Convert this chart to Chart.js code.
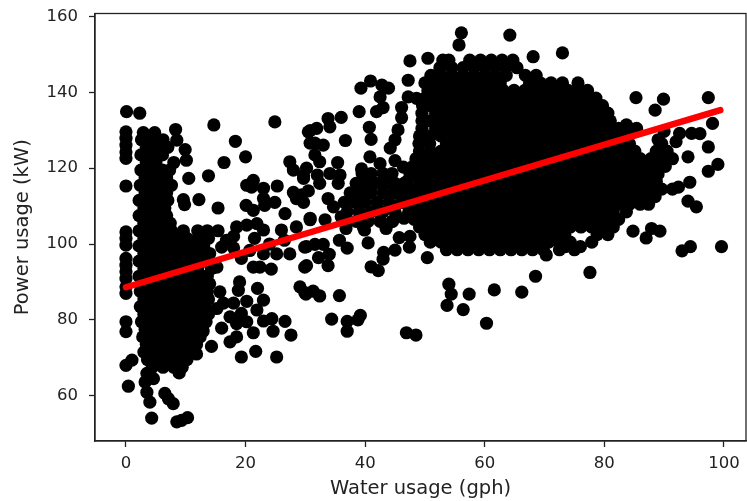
<!DOCTYPE html>
<html>
<head>
<meta charset="utf-8">
<style>
  html, body { margin: 0; padding: 0; background: #fff; }
  canvas { display: block; }
</style>
<script src="https://cdn.jsdelivr.net/npm/chart.js@4/dist/chart.umd.min.js"></script>
</head>
<body>
<canvas id="myChart" width="747" height="501"></canvas>
<script>
var xTicks = [0, 20, 40, 60, 80, 100];
var yTicks = [60, 80, 100, 120, 140, 160];

// fitted line, read at both ends
var fitWater = [0, 99.4];
var fitPower = [88.6, 135.3];

// the solid areas can't be split into single dots, so these are estimates
// that follow their outline: one power value per row, then the water values on that row
var leftPower = [129.4, 127.5, 125.5, 123.5, 121.5, 119.5, 117.5, 115.5, 113.5, 111.5, 109.5, 107.5, 105.5, 103.5, 101.5, 99.5, 97.5, 95.5, 93.5, 91.5, 89.5, 87.5, 85.5, 83.5, 81.5, 79.5, 77.5, 75.5, 73.5, 71.5, 69.5, 67.5];
var leftWater = [
  [2.9, 4.8],
  [2.6, 4.4, 6.2],
  [3.4, 5.2, 7],
  [2.5, 4.3, 6.1],
  [3.4, 5, 8],
  [2.5, 4.3, 6.1, 7.3],
  [3.2, 5, 6.8],
  [2.4, 4.2, 6, 7.6],
  [3.2, 5, 6.8],
  [2.2, 4, 5.8, 7],
  [3, 4.8, 6.5],
  [2.2, 4, 5.8, 6.8],
  [3, 4.8, 6.6, 7.4],
  [2.2, 4, 5.8, 7.6, 9.6, 12, 13.6, 15.4],
  [3, 4.8, 6.6, 8.4, 10.2, 12, 13.8],
  [2.2, 4, 5.8, 7.6, 9.4, 11.2, 13],
  [3, 4.8, 6.6, 8.4, 10.2, 12, 14],
  [2.2, 4, 5.8, 7.6, 9.4, 11.2, 13, 13.6],
  [3, 4.8, 6.6, 8.4, 10.2, 12, 14.3],
  [2.2, 4, 5.8, 7.6, 9.4, 11.2, 13, 13.6],
  [3, 4.8, 6.6, 8.4, 10.2, 12, 14],
  [2.4, 4.2, 6, 7.8, 9.6, 11.4, 13.2, 13.6],
  [3, 4.8, 6.6, 8.4, 10.2, 12, 13.8],
  [2.4, 4.2, 6, 7.8, 9.6, 11.4, 13.2],
  [3, 4.8, 6.6, 8.4, 10.2, 12, 13.8],
  [2.6, 4.4, 6.2, 8, 9.8, 11.6, 13.4],
  [3.2, 5, 6.8, 8.6, 10.4, 12.2, 12.8],
  [2.8, 4.6, 6.4, 8.2, 10, 11.8, 12.4],
  [3.4, 5.2, 7, 8.8, 10.6, 11.8],
  [3, 4.8, 6.6, 8.4, 10.2, 11],
  [3.6, 5.4, 7.2, 9, 10.2],
  [4.4, 6.2, 8, 9.4]
];

var mainPower = [148.5, 146.5, 144.5, 142.5, 140.5, 138.5, 136.5, 134.5, 132.5, 130.5, 128.5, 126.5, 124.5, 122.5, 120.5, 118.5, 116.5, 114.5, 112.5, 110.5, 108.5, 106.5, 104.5, 102.5, 100.5, 98.5];
var mainWater = [
  [57.5, 59.3, 61.1, 62.9, 64.7],
  [52.5, 54.5, 56.4, 58.2, 60, 61.8, 63.6, 65.4],
  [51, 52.8, 54.6, 56.4, 58.2, 60, 61.8, 63.6, 66.8, 68.6],
  [50, 51.8, 53.6, 55.4, 57.2, 59, 60.8, 62.6, 67.5, 69.3, 71.1, 73, 75.6],
  [50.5, 52.3, 54.1, 55.9, 57.7, 59.5, 61.3, 63.1, 64.9, 66.7, 68.5, 70.3, 72.1, 73.9, 75.7, 77.2],
  [50, 51.8, 53.6, 55.4, 57.2, 59, 60.8, 62.6, 64.4, 66.2, 68, 69.8, 71.6, 73.4, 75.2, 77, 78.6],
  [49.6, 50.9, 52.7, 54.5, 56.3, 58.1, 59.9, 61.7, 63.5, 65.3, 67.1, 68.9, 70.7, 72.5, 74.3, 76.1, 77.9, 79.7],
  [49.5, 51.8, 53.6, 55.4, 57.2, 59, 60.8, 62.6, 64.4, 66.2, 68, 69.8, 71.6, 73.4, 75.2, 77, 78.8, 80.6],
  [49.5, 50.9, 52.7, 54.5, 56.3, 58.1, 59.9, 61.7, 63.5, 65.3, 67.1, 68.9, 70.7, 72.5, 74.3, 76.1, 77.9, 79.7, 81],
  [49.5, 51.8, 53.6, 55.4, 57.2, 59, 60.8, 62.6, 64.4, 66.2, 68, 69.8, 71.6, 73.4, 75.2, 77, 78.8, 80.6, 82.4, 84.2, 85.4],
  [49.1, 50.9, 52.7, 54.5, 56.3, 58.1, 59.9, 61.7, 63.5, 65.3, 67.1, 68.9, 70.7, 72.5, 74.3, 76.1, 77.9, 79.7, 81.5, 83.3],
  [49, 50.8, 53.6, 55.4, 57.2, 59, 60.8, 62.6, 64.4, 66.2, 68, 69.8, 71.6, 73.4, 75.2, 77, 78.8, 80.6, 82.4, 84.2, 89.6],
  [49.1, 50.9, 52.7, 54.5, 56.3, 58.1, 59.9, 61.7, 63.5, 65.3, 67.1, 68.9, 70.7, 72.5, 74.3, 76.1, 77.9, 79.7, 81.5, 83.3, 85.1, 88.7, 90.5],
  [48.5, 50, 51.8, 53.6, 55.4, 57.2, 59, 60.8, 62.6, 64.4, 66.2, 68, 69.8, 71.6, 73.4, 75.2, 77, 78.8, 80.6, 82.4, 84.2, 86, 87.8, 89.6, 91.4],
  [48, 49.1, 50.9, 52.7, 54.5, 56.3, 58.1, 59.9, 61.7, 63.5, 65.3, 67.1, 68.9, 70.7, 72.5, 74.3, 76.1, 77.9, 79.7, 81.5, 83.3, 85.1, 86.9, 88.7, 90.2],
  [47.5, 48.2, 50, 51.8, 53.6, 55.4, 57.2, 59, 60.8, 62.6, 64.4, 66.2, 68, 69.8, 71.6, 73.4, 75.2, 77, 78.8, 80.6, 82.4, 84.2, 86, 87.8, 89],
  [47, 49.1, 50.9, 52.7, 54.5, 56.3, 58.1, 59.9, 61.7, 63.5, 65.3, 67.1, 68.9, 70.7, 72.5, 74.3, 76.1, 77.9, 79.7, 81.5, 83.3, 85.1, 86.9, 88.7],
  [46.4, 48.2, 50, 51.8, 53.6, 55.4, 57.2, 59, 60.8, 62.6, 64.4, 66.2, 68, 69.8, 71.6, 73.4, 75.2, 77, 78.8, 80.6, 82.4, 84.2, 86, 87.8, 89.6, 91.4],
  [47.3, 49.1, 50.9, 52.7, 54.5, 56.3, 58.1, 59.9, 61.7, 63.5, 65.3, 67.1, 68.9, 70.7, 72.5, 74.3, 76.1, 77.9, 79.7, 81.5, 83.3, 85.1, 86.9, 88.5],
  [47, 48.2, 50, 51.8, 53.6, 55.4, 57.2, 59, 60.8, 62.6, 64.4, 66.2, 68, 69.8, 71.6, 73.4, 75.2, 77, 78.8, 80.6, 82.4, 84.2, 86, 87.4],
  [47.3, 49.1, 50.9, 52.7, 54.5, 56.3, 58.1, 59.9, 61.7, 63.5, 65.3, 67.1, 68.9, 70.7, 72.5, 74.3, 76.1, 77.9, 79.7, 81.5, 83.7],
  [48.2, 50, 51.8, 53.6, 55.4, 57.2, 59, 60.8, 62.6, 64.4, 66.2, 68, 69.8, 71.6, 73.4, 75.2, 77, 78.8, 80.6, 82.4],
  [49.1, 50.9, 52.7, 54.5, 56.3, 58.1, 59.9, 61.7, 63.5, 65.3, 67.1, 68.9, 70.7, 72.5, 74.3, 76.1, 77.9, 79.7, 81.5],
  [50, 51.8, 53.6, 55.4, 57.2, 59, 60.8, 62.6, 64.4, 66.2, 68, 69.8, 71.6, 73.4, 78.8, 80.6],
  [50.9, 52.7, 54.5, 56.3, 58.1, 59.9, 61.7, 63.5, 65.3, 67.1, 68.9, 70.7, 72.5, 74.3, 77.9],
  [53.6, 55.4, 57.2, 59, 60.8, 62.6, 64.4, 66.2, 68, 69.8, 72.5, 75]
];

// dots that can still be told apart
var loosePoints = [
  [0.1, 134.9], [2.3, 134.5], [0, 129.6], [0, 127.9], [0, 126.1], [0, 124.3], [0, 122.6], [0, 115.3],
  [0, 103.2], [0, 101.5], [0, 99.7], [0, 96.2], [0, 94.4], [0, 92.7], [0, 90.9], [0, 88.7], [0, 87],
  [0, 79.5], [0, 76.9], [0, 68], [1, 69.4], [0.4, 62.5], [3.2, 63.6], [4.6, 64.5], [3.5, 60.9], [4, 58.3],
  [3.5, 65.9], [6.5, 60.6], [7.1, 59.2], [7.9, 57.9], [4.3, 54.1], [8.5, 53.1], [9.3, 53.5], [10.3, 54.2], [8.9, 66],
  [14.7, 131.4], [24.9, 132.2], [18.3, 127.1], [20, 123], [16.4, 121.5], [13.8, 118], [10.5, 117.3],
  [8.3, 130.2], [10.1, 122.1], [9.9, 124.9], [8.5, 127.4], [9.6, 111.7], [9.8, 110.4], [12.2, 111.7], [15.4, 109.5],
  [20.2, 115.5], [21.3, 116.8], [21, 115], [23, 114.7], [25.3, 115.3], [27.4, 121.7], [20.1, 110.2], [21.3, 108.9],
  [23.2, 110.2], [23, 112], [24.9, 111], [26.6, 108], [28, 113.6], [28.5, 112], [29.4, 113], [29.7, 117.3],
  [28, 119.5], [30.5, 129.6], [30.8, 126.6], [18.5, 104.5], [20.2, 105], [21.9, 105.4], [23, 103.7], [26, 103.7],
  [28.5, 104.5], [30.8, 106.8], [29.9, 99.2], [29.9, 93.9], [27.4, 97.4], [25.2, 97.4], [24.3, 93.4], [22.4, 93.9],
  [21.3, 93.9], [19.3, 96.2], [18, 102], [16.8, 101], [16, 99.2], [15.2, 93.9], [23, 97.4], [20.7, 98.3], [18, 99],
  [24, 100], [26.5, 101], [21.5, 101.5], [19, 90], [18.8, 87.8], [22, 88.3], [23, 85.2], [15.7, 87.4], [29.1, 88.7], [30.1, 86.8],
  [16.3, 84.4], [18, 84.4], [20.2, 84.9], [21.9, 82.6], [19.3, 81.7], [17.4, 80.8], [15.2, 83], [16, 77.8], [18.5, 79],
  [20.2, 79.5], [21.3, 76.6], [23, 79.7], [24.4, 80.3], [26.6, 79.6], [24.6, 77], [27.6, 76], [17.4, 74.2], [18.5, 75.5],
  [14.3, 73], [19.3, 70.2], [21.7, 71.7], [25.2, 70.2], [11.8, 71], [12.9, 77],
  [36, 133.4], [33.8, 133.1], [34.1, 130.9], [31.9, 130.5], [30.8, 129.9], [36.7, 127.3], [33, 126.1], [31.6, 126.6],
  [31.6, 123.5], [35.4, 121.5], [32.4, 121.7], [30.2, 120], [35.8, 118.2], [35.5, 116], [32, 118.2], [34.1, 118.6],
  [39.4, 119.8], [29.7, 118], [32.4, 116], [29.7, 111], [30.5, 114], [33.8, 112], [34.7, 109.8], [36, 107.2],
  [39.5, 118.6], [41, 118.6], [43, 118.6], [44.5, 118.6], [38.5, 116], [40, 116], [41.8, 116], [43.5, 116], [45, 116], [46.5, 116],
  [37.5, 113.5], [39.3, 113.5], [41, 113.5], [43, 113.5], [44.8, 113.5], [46.5, 113.5], [36.5, 111], [38.3, 111], [40, 111],
  [42, 111], [44, 111], [46, 111], [37, 108.5], [39, 108.5], [41, 108.5], [43, 108.5], [45, 108.5], [38.5, 106], [40.5, 106], [42.5, 106], [44.5, 106], [46.5, 106.8],
  [36.8, 104.1], [39.7, 104.5], [43.5, 104.1], [44.6, 106], [45.7, 101.7], [47.4, 99.2], [35.7, 101], [37, 98.9],
  [40.5, 100.3], [39.9, 103.7], [43.1, 97.8], [45, 98.4], [43, 96], [41, 94], [42.2, 93], [50.4, 96.4], [47.5, 102],
  [30.8, 106.4], [33.3, 106.4], [30.2, 99.3], [31.6, 99.9], [33, 99.9], [32.2, 96.4], [34, 97.3], [33.8, 94.3], [30.2, 94.3],
  [29.9, 87.2], [31.3, 87.6], [32.4, 86.3], [35.7, 86.4], [34.4, 80.2], [37, 79.6], [39.2, 81.2], [38.8, 80], [37, 77],
  [46.9, 76.6], [48.5, 76], [54, 89.4], [54.4, 86.8], [57.4, 86.8], [53.7, 83.8], [56.4, 82.7], [61.6, 87.9], [66.2, 87.3], [60.3, 79.1],
  [68.5, 91.5], [77.6, 92.5], [56.1, 155.7], [55.7, 152.5], [64.2, 155.1], [47.5, 148.3], [50.5, 149], [53, 148.5], [54, 148.5],
  [47.2, 143.2], [47.2, 138.8], [48.6, 138.4], [43.9, 141.1], [42.8, 141.9], [40.9, 143], [39.3, 141.1], [42.5, 138.8],
  [39, 134.9], [41.9, 134.9], [43, 136], [46.1, 136], [46.1, 133.3], [45.5, 130.1], [45, 127.5], [44.2, 125.3],
  [40.7, 130.8], [41, 127.6], [40.8, 123], [42.5, 121.2], [45, 122], [46.4, 120.3],
  [68.1, 149.4], [73, 150.4], [85.3, 138.6], [89.9, 138.2], [88.5, 135.3], [97.4, 138.6], [98.1, 131.8], [96, 129.1],
  [97.4, 125.6], [94, 123], [99, 121], [97.4, 119.2], [94.3, 116.3], [92.4, 115], [94, 111.3], [95.4, 109.8],
  [84.8, 103.4], [87, 101.6], [87.9, 104.1], [89.3, 103.4], [93, 98.2], [94.4, 99.3], [99.6, 99.3],
  [83.7, 131.4], [85.4, 130.1], [90, 129.7], [92.6, 129.2], [94.6, 129.2], [92, 127], [89, 127.5], [70.3, 97.1], [73.5, 99.3], [76, 99.3]
];

var scatterData = loosePoints.map(function (p) { return { x: p[0], y: p[1] }; });
leftPower.forEach(function (power, i) {
  leftWater[i].forEach(function (water) { scatterData.push({ x: water, y: power }); });
});
mainPower.forEach(function (power, i) {
  mainWater[i].forEach(function (water) { scatterData.push({ x: water, y: power }); });
});

var fitData = fitWater.map(function (water, i) { return { x: water, y: fitPower[i] }; });

var inkColor = '#222';

// pin the plot box to where the reference has it
function pinWidth(scale) {
  scale.width = 95;
  scale.paddingTop = scale.paddingBottom = 0;
}
function pinHeight(scale) {
  scale.height = 60;
  scale.paddingLeft = scale.paddingRight = 0;
}

// matplotlib closes the box on the top and right too
var frame = {
  id: 'frame',
  afterDatasetsDraw: function (chart) {
    var a = chart.chartArea, c = chart.ctx;
    c.save();
    c.strokeStyle = inkColor;
    c.lineWidth = 1.3;
    c.strokeRect(a.left, a.top, a.right - a.left, a.bottom - a.top);
    c.restore();
  }
};

var ctx = document.getElementById('myChart').getContext('2d');
var chart = new Chart(ctx, {
    type: 'scatter',
    data: {
        datasets: [{
            type: 'line',
            label: 'Fit',
            data: fitData,
            borderColor: '#ff0000',
            borderWidth: 6.5,
            borderCapStyle: 'round',
            pointRadius: 0,
            fill: false,
            order: 0
        },
        {
            label: 'Usage',
            data: scatterData,
            backgroundColor: '#000',
            borderWidth: 0,
            pointRadius: 6.6,
            order: 1
        }]
    },
    options: {
        responsive: false,
        animation: false,
        layout: { autoPadding: false, padding: { top: 13.5, right: 1 } },
        plugins: { legend: { display: false }, tooltip: { enabled: false } },
        scales: {
            x: {
                type: 'linear',
                min: -5.18,
                max: 103.7,
                afterFit: pinHeight,
                afterBuildTicks: function (scale) { scale.ticks = xTicks.map(function (v) { return { value: v }; }); },
                border: { color: inkColor, width: 1.3 },
                grid: { drawOnChartArea: false, tickLength: 6, tickColor: inkColor, tickWidth: 1.3 },
                ticks: { maxRotation: 0, padding: 6.5, color: inkColor, font: { family: 'DejaVu Sans', size: 16.5 } },
                title: { display: true, text: 'Water usage (gph)', color: inkColor, padding: 0, font: { family: 'DejaVu Sans', size: 19.5 } }
            },
            y: {
                type: 'linear',
                min: 48.05,
                max: 160.8,
                afterFit: pinWidth,
                afterBuildTicks: function (scale) { scale.ticks = yTicks.map(function (v) { return { value: v }; }); },
                border: { color: inkColor, width: 1.3 },
                grid: { drawOnChartArea: false, tickLength: 6, tickColor: inkColor, tickWidth: 1.3 },
                ticks: { padding: 11, color: inkColor, font: { family: 'DejaVu Sans', size: 16.5 } },
                title: { display: true, text: 'Power usage (kW)', color: inkColor, padding: { top: 11, bottom: 0 }, font: { family: 'DejaVu Sans', size: 19.5 } }
            }
        }
    },
    plugins: [frame]
});
</script>
</body>
</html>
